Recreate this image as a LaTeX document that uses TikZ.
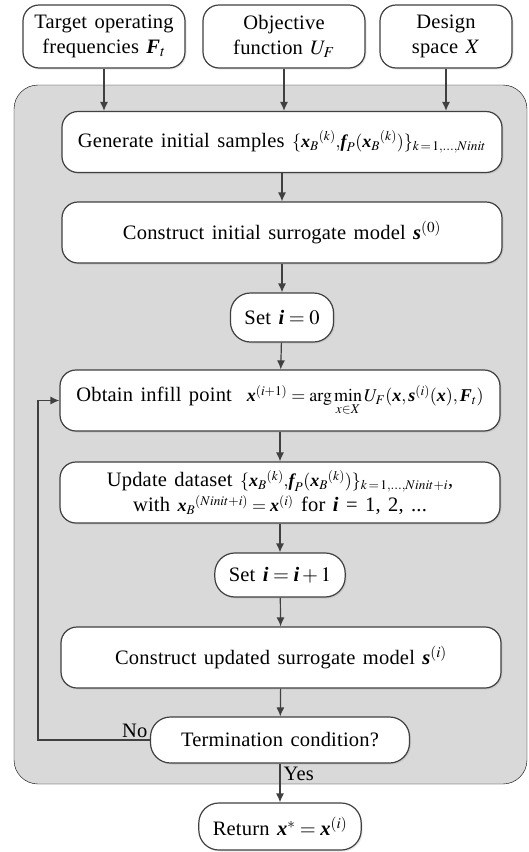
\documentclass[tikz,border=0pt]{standalone}
\usepackage{amsmath}
\usepackage{mathptmx}
\usepackage{fontspec}
\setmainfont{Liberation Serif}[WordSpace=1.4,LetterSpace=1.0]
\usepackage{tikz}
\usetikzlibrary{arrows.meta,backgrounds,positioning,shadows}
\definecolor{linea}{RGB}{64,64,64}
\definecolor{fondo}{RGB}{217,217,217}
\tikzstyle{exterior}=[
	rectangle,
	rounded corners=16pt,
	draw=linea,
	line width=1.2pt,
	fill=white,
	inner ysep=2pt,
	drop shadow={opacity=0.18,shadow xshift=1.5pt,shadow yshift=-1.5pt},
	font=\fontsize{20.5}{25}\selectfont]
\tikzstyle{bloque}=[
	exterior,
	align=center,
	minimum width=440pt,
	minimum height=61pt]
\tikzstyle{entrada}=[
	exterior,
	align=center,
	minimum width=162pt,
	minimum height=63pt]
\tikzstyle{paso}=[
	exterior,
	rounded corners=20pt,
	minimum height=46pt,
	inner xsep=14pt]
\newcommand{\bv}[1]{\text{\bfseries\itshape #1}}
\newcommand{\chica}{\fontsize{18}{22}\selectfont}

\begin{document}
\begin{tikzpicture}[x=1pt,y=1pt,>={Latex[length=9pt,width=8pt]},line width=1.2pt,draw=linea]
	\useasboundingbox (0,0) rectangle (528,-852);
	\node[bloque]	(gen)	at (282,-142)	{Generate initial samples {\chica$\{\bv{x}_B{}^{(k)}{,}\bv{f}_P(\bv{x}_B{}^{(k)})\}_{k\,=\,1,\dots,Ninit}$}};
	\node[bloque]	(init)	at (282,-232.5)	{Construct initial surrogate model $\bv{s}^{(0)}$};
	\node[paso,minimum height=49pt]	(set0)	at (282,-317.5)	{Set $\bv{i}=0$};
	\node[bloque]	(infill)	at (280,-400.5)	{Obtain infill point\ \ {\chica$\bv{x}^{(i+1)}=\arg\min\limits_{x\in X}U_F(\bv{x},\bv{s}^{(i)}(\bv{x}),\bv{F}_t)$}};
	\node[bloque]	(update)	at (280,-492.5)	{Update dataset {\chica$\{\bv{x}_B{}^{(k)}{,}\bv{f}_P(\bv{x}_B{}^{(k)})\}_{k\,=\,1,\dots,Ninit+i}$},\\with {\chica$\bv{x}_B{}^{(Ninit+i)}=\bv{x}^{(i)}$} for $\bv{i}$ = 1, 2, ...};
	\node[paso,minimum height=44pt]	(seti)	at (280,-575)	{Set $\bv{i}=\bv{i}+1$};
	\node[bloque]	(updmodel)	at (281,-657.5)	{Construct updated surrogate model $\bv{s}^{(i)}$};
	\node[paso,minimum width=259pt]	(term)	at (280,-740)	{Termination condition?};
	\node[paso,minimum height=47pt]	(ret)	at (280,-826.5)	{Return $\bv{x}^{*}=\bv{x}^{(i)}$};
	% entradas
	\node[entrada]	(freq)	at (104,-36.5)	{Target operating\\frequencies $\bv{F}_t$};
	\node[entrada]	(obj)	at (284,-36.5)	{Objective\\function $U_F$};
	\node[entrada,minimum width=132pt]	(space)	at (446,-36.5)	{Design\\space $X$};
	% region gris
	\begin{scope}[on background layer]
		\draw[fill=fondo,rounded corners=24pt] (14,-85) rectangle (527,-784);
	\end{scope}
	\draw[->] (freq.south) -- (freq.south |- gen.north);
	\draw[->] (obj.south) -- (obj.south |- gen.north);
	\draw[->] (space.south) -- (space.south |- gen.north);
	\draw[->] (gen) -- (init);
	\draw[->] (init) -- (set0);
	\draw[->] (set0) -- (infill);
	\draw[->] (infill) -- (update);
	\draw[->] (update) -- (seti);
	\draw[->] (seti) -- (updmodel);
	\draw[->] (updmodel) -- (term);
	\draw[->] (term) -- (ret);
	\node[anchor=north west,font=\fontsize{20.5}{25}\selectfont,inner sep=3pt] (yes) at (term.south) {Yes};
	\draw[->] (term.west) -- ++(-112,0) |- (infill.west);
	\node[anchor=south east,font=\fontsize{20.5}{25}\selectfont,inner sep=2pt] (no) at (term.west) {No};
\end{tikzpicture}
\end{document}
